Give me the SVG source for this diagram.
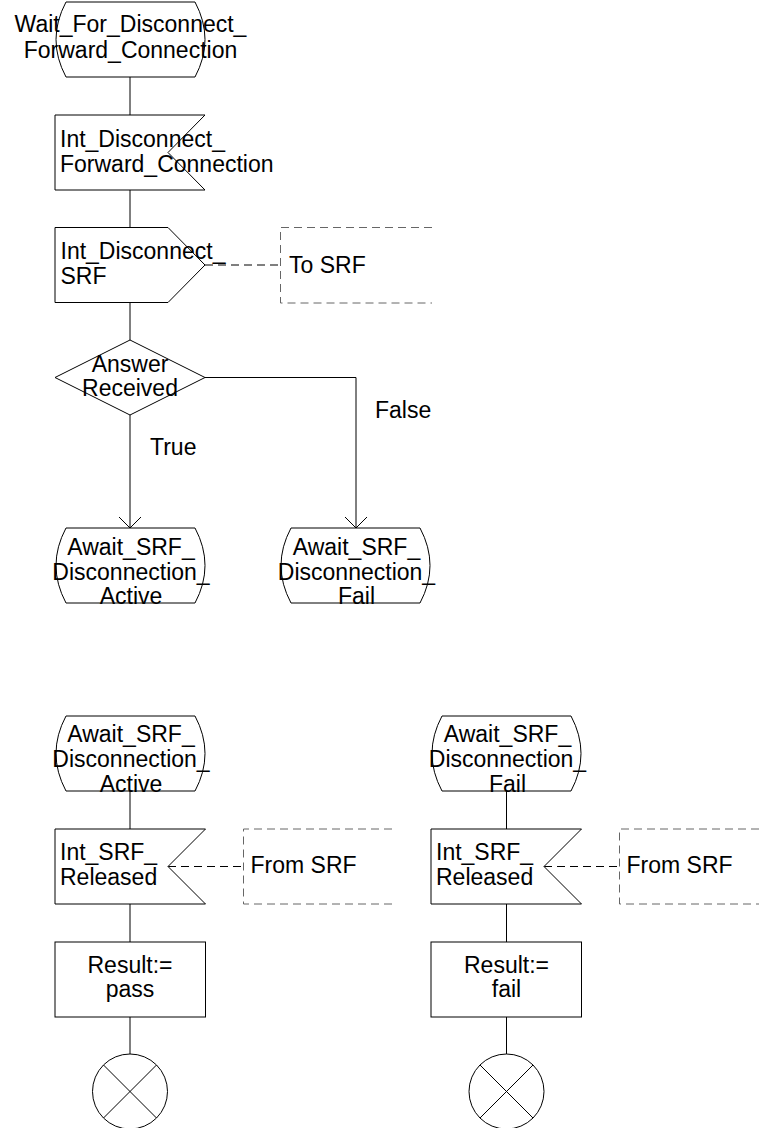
<svg xmlns="http://www.w3.org/2000/svg" width="759" height="1128" viewBox="0 0 759 1128">
<style>
.s{fill:#fff;stroke:#000;stroke-width:1}
.l{fill:none;stroke:#000;stroke-width:1}
.d{fill:none;stroke:#000;stroke-width:1;stroke-dasharray:8,5}
.b{fill:none;stroke:#666;stroke-width:1;stroke-dasharray:8,5}
text{font-family:"Liberation Sans",Arial,sans-serif;font-size:23px;fill:#000}
.c{text-anchor:middle}
</style>
<defs>
<marker id="arr" markerUnits="userSpaceOnUse" viewBox="-12 -12 24 24" markerWidth="24" markerHeight="24" refX="0" refY="0" orient="auto" overflow="visible">
<path d="M-11,-11 L0,0 L-11,11" fill="none" stroke="#000" stroke-width="1"/>
</marker>
</defs>
<g id="connectors">
<line class="l" x1="130" y1="77" x2="130" y2="115"/>
<line class="l" x1="130" y1="190" x2="130" y2="227"/>
<line class="l" x1="130" y1="302" x2="130" y2="340"/>
<line class="l" x1="130" y1="415" x2="130" y2="528" marker-end="url(#arr)"/>
<polyline class="l" points="205,377.5 356,377.5 356,528" marker-end="url(#arr)"/>
<line class="d" x1="205" y1="265" x2="280.5" y2="265"/>
<line class="l" x1="130" y1="791" x2="130" y2="829"/>
<line class="l" x1="130" y1="904" x2="130" y2="942"/>
<line class="l" x1="130" y1="1017" x2="130" y2="1054"/>
<line class="d" x1="168" y1="866.5" x2="243.5" y2="866.5"/>
<line class="l" x1="506.5" y1="791" x2="506.5" y2="829"/>
<line class="l" x1="506.5" y1="904" x2="506.5" y2="942"/>
<line class="l" x1="506.5" y1="1017" x2="506.5" y2="1054"/>
<line class="d" x1="544" y1="866.5" x2="619.5" y2="866.5"/>
</g>
<g id="wait_state">
<path class="s" d="M66,2 L195,2 Q215,39.5 195,77 L66,77 Q46,39.5 66,2 Z"/>
<text class="c" x="130.5" y="32">Wait_For_Disconnect_</text>
<text class="c" x="130.5" y="58">Forward_Connection</text>
</g>
<g id="input_fwd">
<path class="s" d="M55,115 L205,115 L168,152.5 L205,190 L55,190 Z"/>
<text x="60" y="146.5">Int_Disconnect_</text>
<text x="60" y="172">Forward_Connection</text>
</g>
<g id="output_srf">
<path class="s" d="M55,227.5 L168,227.5 L205,265 L168,302.5 L55,302.5 Z"/>
<text x="60.5" y="259">Int_Disconnect_</text>
<text x="60.5" y="284">SRF</text>
</g>
<g id="comment_to_srf">
<path class="b" d="M432,227.5 L280.5,227.5 L280.5,303 L432,303"/>
<text x="289" y="273">To SRF</text>
</g>
<g id="decision">
<path class="s" d="M130,340 L205,377.5 L130,415 L55,377.5 Z"/>
<text class="c" x="130" y="372">Answer</text>
<text class="c" x="130" y="396">Received</text>
</g>
<g id="labels">
<text x="150" y="455">True</text>
<text x="375" y="418">False</text>
</g>
<g id="state_active_1">
<path class="s" d="M66,528 L195,528 Q215,565.5 195,603 L66,603 Q46,565.5 66,528 Z"/>
<text class="c" x="131" y="555">Await_SRF_</text>
<text class="c" x="131" y="580">Disconnection_</text>
<text class="c" x="131" y="604">Active</text>
</g>
<g id="state_fail_1">
<path class="s" d="M291,528 L420,528 Q440,565.5 420,603 L291,603 Q271,565.5 291,528 Z"/>
<text class="c" x="356.5" y="555">Await_SRF_</text>
<text class="c" x="356.5" y="580">Disconnection_</text>
<text class="c" x="356.5" y="604">Fail</text>
</g>
<g id="state_active_2">
<path class="s" d="M66,716 L195,716 Q215,753.5 195,791 L66,791 Q46,753.5 66,716 Z"/>
<text class="c" x="131" y="742">Await_SRF_</text>
<text class="c" x="131" y="767">Disconnection_</text>
<text class="c" x="131" y="792">Active</text>
</g>
<g id="input_released_1">
<path class="s" d="M55,829 L205.5,829 L168,866.5 L205.5,904 L55,904 Z"/>
<text x="60" y="860">Int_SRF_</text>
<text x="60" y="885">Released</text>
</g>
<g id="comment_from_srf_1">
<path class="b" d="M392,829 L243.5,829 L243.5,904 L392,904"/>
<text x="250.5" y="873">From SRF</text>
</g>
<g id="task_pass">
<rect class="s" x="55" y="942" width="150.5" height="75"/>
<text class="c" x="130" y="973">Result:=</text>
<text class="c" x="130" y="997">pass</text>
</g>
<g id="stop_1">
<circle class="s" cx="130" cy="1091.5" r="37.5"/>
<path class="l" d="M103.5,1065 L156.5,1118 M156.5,1065 L103.5,1118"/>
</g>
<g id="state_fail_2">
<path class="s" d="M442,716 L571,716 Q591,753.5 571,791 L442,791 Q422,753.5 442,716 Z"/>
<text class="c" x="507.5" y="742">Await_SRF_</text>
<text class="c" x="507.5" y="767">Disconnection_</text>
<text class="c" x="507.5" y="792">Fail</text>
</g>
<g id="input_released_2">
<path class="s" d="M431,829 L581.5,829 L544,866.5 L581.5,904 L431,904 Z"/>
<text x="436" y="860">Int_SRF_</text>
<text x="436" y="885">Released</text>
</g>
<g id="comment_from_srf_2">
<path class="b" d="M759,829 L619.5,829 L619.5,904 L759,904"/>
<text x="626.5" y="873">From SRF</text>
</g>
<g id="task_fail">
<rect class="s" x="431" y="942" width="150.5" height="75"/>
<text class="c" x="506.5" y="973">Result:=</text>
<text class="c" x="506.5" y="997">fail</text>
</g>
<g id="stop_2">
<circle class="s" cx="506.5" cy="1091.5" r="37.5"/>
<path class="l" d="M480,1065 L533,1118 M533,1065 L480,1118"/>
</g>
</svg>
